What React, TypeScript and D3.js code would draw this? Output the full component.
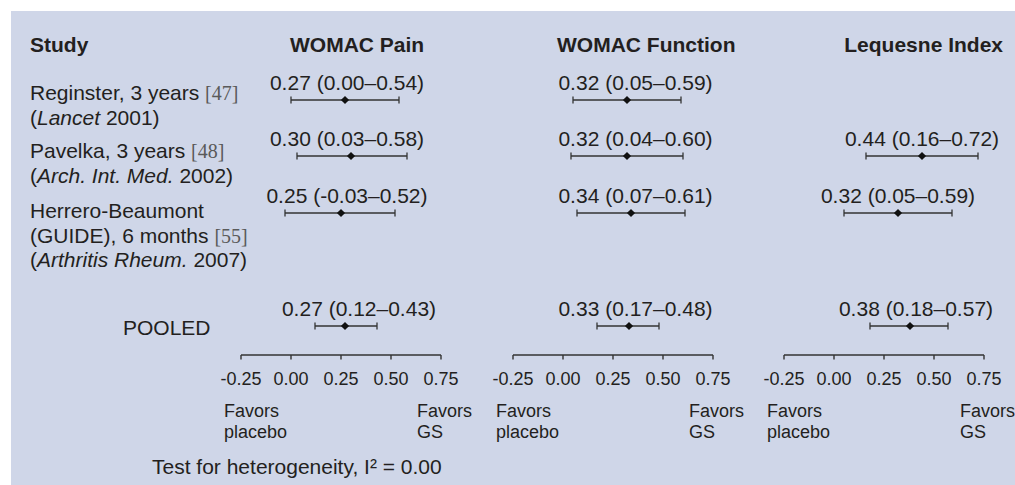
import React from "react";
import * as d3 from "d3";

// ---------- DATA ----------
const measures = ["WOMAC Pain", "WOMAC Function", "Lequesne Index"];

// study rows (null = not reported)
const painEst = [0.27, 0.30, 0.25];
const painLo = [0.00, 0.03, -0.03];
const painHi = [0.54, 0.58, 0.52];

const functionEst = [0.32, 0.32, 0.34];
const functionLo = [0.05, 0.04, 0.07];
const functionHi = [0.59, 0.60, 0.61];

const lequesneEst = [null, 0.44, 0.32];
const lequesneLo = [null, 0.16, 0.05];
const lequesneHi = [null, 0.72, 0.59];

// pooled estimates per measure
const pooledEst = [0.27, 0.33, 0.38];
const pooledLo = [0.12, 0.17, 0.18];
const pooledHi = [0.43, 0.48, 0.57];

const tickValues = [-0.25, 0.0, 0.25, 0.5, 0.75];
const axisDomain = [-0.25, 0.75];

type Seg = { t: string; kind?: "i" | "ref" };
const studyLabels: Seg[][][] = [
  [
    [{ t: "Reginster, 3 years " }, { t: "[47]", kind: "ref" }],
    [{ t: "(" }, { t: "Lancet", kind: "i" }, { t: " 2001)" }],
  ],
  [
    [{ t: "Pavelka, 3 years " }, { t: "[48]", kind: "ref" }],
    [{ t: "(" }, { t: "Arch. Int. Med.", kind: "i" }, { t: " 2002)" }],
  ],
  [
    [{ t: "Herrero-Beaumont" }],
    [{ t: "(GUIDE), 6 months " }, { t: "[55]", kind: "ref" }],
    [{ t: "(" }, { t: "Arthritis Rheum.", kind: "i" }, { t: " 2007)" }],
  ],
];

const studyHeader = "Study";
const pooledLabel = "POOLED";
const leftFavor = ["Favors", "placebo"];
const rightFavor = ["Favors", "GS"];
const heterogeneity = "Test for heterogeneity, I\u00B2 = 0.00";

// ---------- LAYOUT ----------
const W = 1015;
const H = 485;
const BG = "#cfd6e8";
const INK = "#231f20";
const SANS = "'Liberation Sans', Arial, Helvetica, sans-serif";
const SERIF = "'Liberation Serif', 'Times New Roman', serif";

const panelRanges: [number, number][] = [
  [241, 441],
  [513, 713],
  [784, 984],
];
const headerX = [290, 557, 1003];
const headerAnchor = ["start", "start", "end"];
const rowY = [100, 156, 213, 326]; // 3 studies + pooled
const studyBaseline = [100, 158, 218];
const lineH = 24.5;
const axisY = 355;
// small per-label horizontal nudges (px) to match the original typesetting
const labelNudge = [
  [2, -4, 6, 14],
  [8.5, 8.5, 4.5, 6.5],
  [0, 0, 0, 6],
];

const locale = d3.formatLocale({
  decimal: ".",
  thousands: ",",
  grouping: [3],
  currency: ["$", ""],
  minus: "-",
});
const f2 = locale.format(".2f");

const allEst = [painEst, functionEst, lequesneEst];
const allLo = [painLo, functionLo, lequesneLo];
const allHi = [painHi, functionHi, lequesneHi];

const diamond = d3.symbol().type(d3.symbolSquare).size(34)();

export default function App() {
  const panels = measures.map((m, pi) => {
    const x = d3.scaleLinear().domain(axisDomain).range(panelRanges[pi]);
    const rows: { est: number; lo: number; hi: number; y: number; nudge: number }[] = [];
    allEst[pi].forEach((e, ri) => {
      if (e == null) return;
      rows.push({
        est: e as number,
        lo: allLo[pi][ri] as number,
        hi: allHi[pi][ri] as number,
        y: rowY[ri],
        nudge: labelNudge[pi][ri],
      });
    });
    rows.push({
      est: pooledEst[pi],
      lo: pooledLo[pi],
      hi: pooledHi[pi],
      y: rowY[3],
      nudge: labelNudge[pi][3],
    });
    return { m, x, rows };
  });

  return (
    <svg
      width={W}
      height={H}
      style={{ position: "absolute", left: 0, top: 0, display: "block" }}
      fontFamily={SANS}
    >
      <rect x={0} y={0} width={W} height={H} fill="#ffffff" />
      <rect x={11} y={11} width={W - 11} height={H - 11} fill={BG} />

      {/* headers */}
      <text x={30} y={52} fontSize={21} fontWeight="bold" fill={INK}>
        {studyHeader}
      </text>
      {measures.map((m, i) => (
        <text
          key={m}
          x={headerX[i]}
          y={52}
          fontSize={21}
          fontWeight="bold"
          fill={INK}
          textAnchor={headerAnchor[i] as any}
        >
          {m}
        </text>
      ))}

      {/* study labels */}
      {studyLabels.map((lines, si) => (
        <g key={si}>
          {lines.map((segs, li) => (
            <text key={li} x={30} y={studyBaseline[si] + li * lineH} fontSize={21} fill={INK}>
              {segs.map((s, k) => (
                <tspan
                  key={k}
                  fontStyle={s.kind === "i" ? "italic" : undefined}
                  fontFamily={s.kind === "ref" ? SERIF : undefined}
                  fontSize={s.kind === "ref" ? 20 : undefined}
                  fill={s.kind === "ref" ? "#5a5a5a" : undefined}
                >
                  {s.t}
                </tspan>
              ))}
            </text>
          ))}
        </g>
      ))}

      <text x={123} y={335} fontSize={21} fill={INK}>
        {pooledLabel}
      </text>

      {/* panels */}
      {panels.map(({ m, x, rows }) => (
        <g key={m}>
          {rows.map((r, k) => (
            <g key={k}>
              <text
                x={x(r.est) + r.nudge}
                y={r.y - 10.5}
                fontSize={21}
                fill={INK}
                textAnchor="middle"
              >
                {`${f2(r.est)} (${f2(r.lo)}\u2013${f2(r.hi)})`}
              </text>
              <line x1={x(r.lo)} x2={x(r.hi)} y1={r.y} y2={r.y} stroke="#333" strokeWidth={1.3} />
              <line x1={x(r.lo)} x2={x(r.lo)} y1={r.y - 3.5} y2={r.y + 3.5} stroke="#333" strokeWidth={1.3} />
              <line x1={x(r.hi)} x2={x(r.hi)} y1={r.y - 3.5} y2={r.y + 3.5} stroke="#333" strokeWidth={1.3} />
              <path d={diamond as string} transform={`translate(${x(r.est)},${r.y}) rotate(45)`} fill="#111" />
            </g>
          ))}

          {/* axis */}
          <line
            x1={x(axisDomain[0])}
            x2={x(axisDomain[1])}
            y1={axisY}
            y2={axisY}
            stroke="#333"
            strokeWidth={1.4}
          />
          {tickValues.map((t) => (
            <g key={t}>
              <line x1={x(t)} x2={x(t)} y1={axisY} y2={axisY + 4.5} stroke="#333" strokeWidth={1.4} />
              <text x={x(t)} y={axisY + 29.5} fontSize={18} fill={INK} textAnchor="middle">
                {f2(t)}
              </text>
            </g>
          ))}

          {leftFavor.map((s, i) => (
            <text key={"l" + i} x={x(axisDomain[0]) - 17} y={416.5 + i * 21.5} fontSize={18} fill={INK}>
              {s}
            </text>
          ))}
          {rightFavor.map((s, i) => (
            <text key={"r" + i} x={x(axisDomain[1]) - 24} y={416.5 + i * 21.5} fontSize={18} fill={INK}>
              {s}
            </text>
          ))}
        </g>
      ))}

      <text x={152} y={474} fontSize={21} fill={INK}>
        {heterogeneity}
      </text>
    </svg>
  );
}
